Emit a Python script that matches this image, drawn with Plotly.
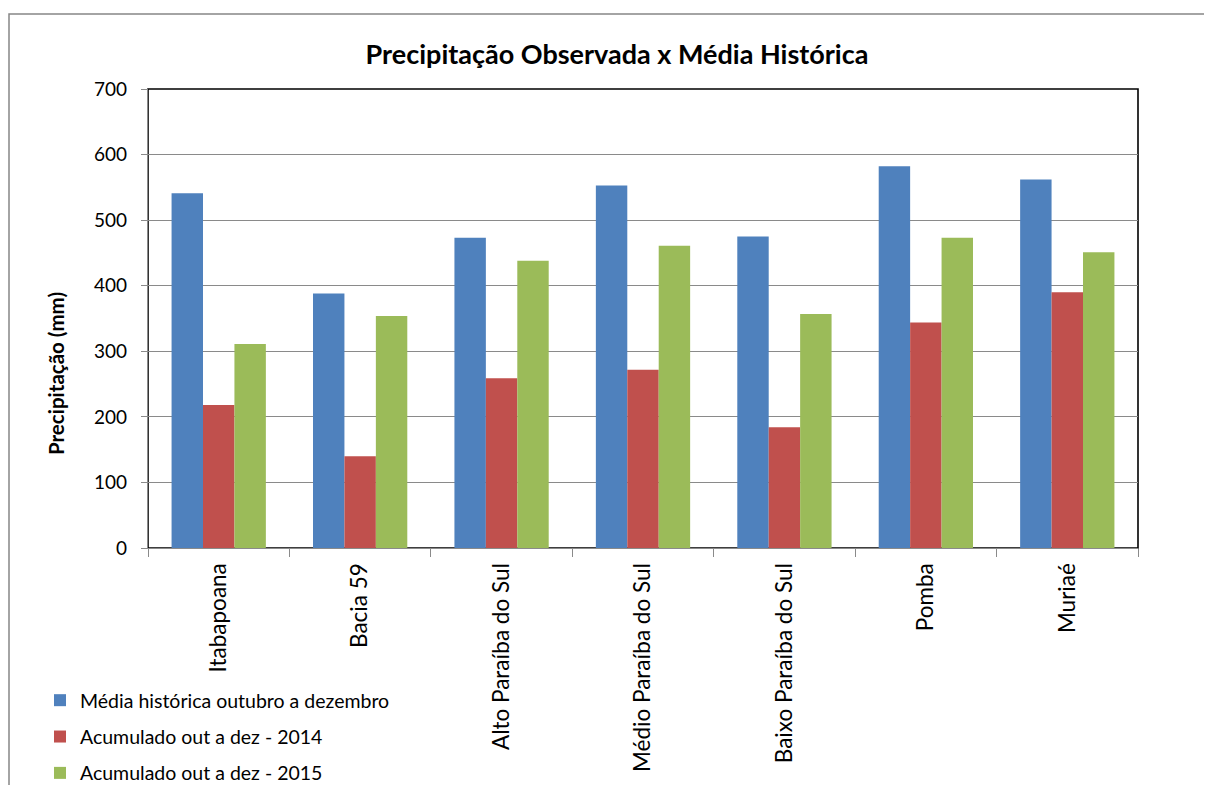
import plotly.graph_objects as go

categories = ["Itabapoana", "Bacia 59", "Alto Paraíba do Sul", "Médio Paraíba do Sul",
              "Baixo Paraíba do Sul", "Pomba", "Muriaé"]
media_historica = [541, 388, 473, 553, 475, 582, 562]
acumulado_2014 = [218, 140, 259, 272, 184, 344, 390]
acumulado_2015 = [311, 354, 438, 461, 357, 473, 451]

series_names = ["Média histórica outubro a dezembro",
                "Acumulado out a dez - 2014",
                "Acumulado out a dez - 2015"]
series_colors = ["#4F81BD", "#C0504D", "#9BBB59"]
y_ticks = [0, 100, 200, 300, 400, 500, 600, 700]

FONT = "Lato"
OFF = 8  # page body margin
W, H = 1212 - OFF, 785 - OFF
L, T = 148 - OFF, 89 - OFF
R = W - (1138 - OFF)
B = H - (548 - OFF)
pw, ph = W - L - R, H - T - B


def px_x(page_x):
    return (page_x - OFF - L) / pw


def px_y(page_y):
    return (H - B - (page_y - OFF)) / ph


fig = go.Figure()
for i, (name, vals, col) in enumerate(zip(series_names,
                                           [media_historica, acumulado_2014, acumulado_2015],
                                           series_colors)):
    fig.add_trace(go.Bar(x=categories, y=vals, name=name, legendgroup=f"g{i}",
                         marker=dict(color=col, line=dict(width=0))))

fig.update_layout(
    width=W, height=H,
    margin=dict(l=L, r=R, t=T, b=B, autoexpand=False),
    paper_bgcolor="white", plot_bgcolor="white",
    barmode="group", bargap=1/3, bargroupgap=0,
    font=dict(family=FONT, color="black"),
    title=dict(text="<b>Precipitação Observada x Média Histórica</b>",
               x=px_x(617), xref="paper", xanchor="center",
               y=1 - (55 - OFF) / H, yanchor="middle",
               font=dict(size=27, family=FONT)),
    showlegend=True,
    legend=dict(x=px_x(40), y=px_y(681), xanchor="left", yanchor="top",
                orientation="v", font=dict(size=19.5, family=FONT),
                itemwidth=30, tracegroupgap=8, bgcolor="rgba(0,0,0,0)"),
)

fig.update_yaxes(range=[0, 700], tickvals=y_ticks, ticktext=[str(v) for v in y_ticks],
                 showgrid=True, gridcolor="#8a8a8a", gridwidth=1.4,
                 showline=True, linecolor="#8a8a8a", linewidth=1.4,
                 ticks="outside", ticklen=6, tickcolor="#8a8a8a", tickwidth=1.4,
                 tickfont=dict(size=19, family=FONT), ticklabelstandoff=10,
                 zeroline=False)
fig.update_xaxes(tickangle=-90, tickson="boundaries",
                 showline=True, linecolor="#8a8a8a", linewidth=1.4,
                 ticks="outside", ticklen=8, tickcolor="#8a8a8a", tickwidth=1.4,
                 tickfont=dict(size=22.5, family=FONT), ticklabelstandoff=5,
                 showgrid=False)

# y-axis title (placed below plot centre as in the reference)
fig.add_annotation(text="<b>Precipitação (mm)</b>", textangle=-90,
                   xref="paper", yref="paper", x=px_x(56), y=px_y(374),
                   xanchor="center", yanchor="middle", showarrow=False,
                   font=dict(size=20.5, family=FONT, color="black"))

# plot-area frame (top/right dark)
fig.add_shape(type="rect", xref="paper", yref="paper", x0=0, y0=0, x1=1, y1=1,
              line=dict(color="black", width=1.6), layer="below")
# outer chart border
fig.add_shape(type="rect", xref="paper", yref="paper",
              x0=px_x(9), y0=px_y(830), x1=px_x(1240), y1=px_y(14),
              line=dict(color="#868686", width=1.5), layer="below")

fig.write_html("out.html")
